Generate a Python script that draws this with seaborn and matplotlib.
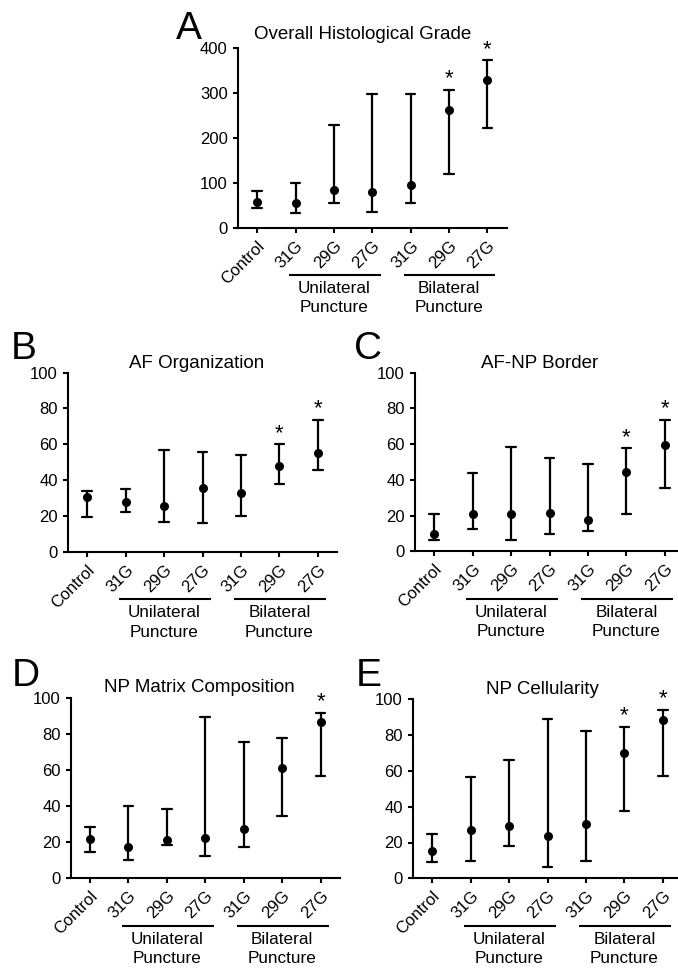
import numpy as np
import pandas as pd
import matplotlib
matplotlib.use("Agg")
import matplotlib.pyplot as plt
import matplotlib.transforms as mtransforms
import seaborn as sns

# ---------------- data ----------------
group_keys = ["Control", "U31G", "U29G", "U27G", "B31G", "B29G", "B27G"]
tick_labels = ["Control", "31G", "29G", "27G", "31G", "29G", "27G"]
puncture_labels = ["Unilateral\nPuncture", "Bilateral\nPuncture"]

overall_median = [58, 56, 83, 79, 96, 262, 330]
overall_low = [45, 32, 54, 36, 54, 120, 223]
overall_high = [82, 99, 228, 298, 297, 307, 373]
overall_sig = [0, 0, 0, 0, 0, 1, 1]

af_org_median = [30.8, 27.6, 25.8, 35.8, 32.7, 47.9, 55.3]
af_org_low = [19.3, 22.4, 16.5, 16.0, 19.9, 37.7, 45.8]
af_org_high = [34.0, 35.3, 57.1, 55.5, 53.8, 59.9, 73.8]
af_org_sig = [0, 0, 0, 0, 0, 1, 1]

afnp_median = [9.9, 21.1, 20.9, 21.3, 17.4, 44.2, 59.3]
afnp_low = [6.5, 12.3, 6.5, 9.7, 11.6, 20.9, 35.4]
afnp_high = [20.9, 44.0, 58.2, 52.0, 49.1, 57.6, 73.5]
afnp_sig = [0, 0, 0, 0, 0, 1, 1]

npm_median = [22.0, 17.4, 21.1, 22.4, 27.4, 61.3, 86.7]
npm_low = [14.8, 10.0, 18.3, 12.4, 17.6, 34.6, 56.7]
npm_high = [28.3, 40.0, 38.7, 89.8, 75.7, 78.1, 91.7]
npm_sig = [0, 0, 0, 0, 0, 0, 1]

npc_median = [15.1, 27.0, 29.4, 23.6, 30.5, 69.8, 88.6]
npc_low = [8.9, 9.5, 17.9, 6.5, 9.5, 37.8, 57.2]
npc_high = [25.0, 56.4, 66.1, 89.2, 82.3, 84.5, 94.0]
npc_sig = [0, 0, 0, 0, 0, 1, 1]

# ---------------- style ----------------
sns.set_theme(style="ticks")
plt.rcParams["font.family"] = ["Liberation Sans", "DejaVu Sans"]
plt.rcParams["axes.linewidth"] = 1.5

W, H = 678, 969
fig = plt.figure(figsize=(W / 100, H / 100), dpi=100)


def fx(px):
    return px / W


def fy(py):
    return 1 - py / H


panels = [
    dict(letter="A", title="Overall Histological Grade",
         med=overall_median, low=overall_low, high=overall_high, sig=overall_sig,
         ymax=400, step=100, box=(238, 506.5, 48.3, 227.7),
         title_xy=(362.5, 39), letter_xy=(176, 39)),
    dict(letter="B", title="AF Organization",
         med=af_org_median, low=af_org_low, high=af_org_high, sig=af_org_sig,
         ymax=100, step=20, box=(68, 337, 372.5, 552),
         title_xy=(197, 368), letter_xy=(11, 359)),
    dict(letter="C", title="AF-NP Border",
         med=afnp_median, low=afnp_low, high=afnp_high, sig=afnp_sig,
         ymax=100, step=20, box=(415, 684, 372.7, 551.3),
         title_xy=(540, 368), letter_xy=(354, 359)),
    dict(letter="D", title="NP Matrix Composition",
         med=npm_median, low=npm_low, high=npm_high, sig=npm_sig,
         ymax=100, step=20, box=(70.8, 339.8, 698.3, 878.3),
         title_xy=(199, 692), letter_xy=(12, 686)),
    dict(letter="E", title="NP Cellularity",
         med=npc_median, low=npc_low, high=npc_high, sig=npc_sig,
         ymax=100, step=20, box=(413, 682, 699.3, 878.3),
         title_xy=(542.5, 694), letter_xy=(356, 686)),
]

for p in panels:
    l, r, t, b = p["box"]
    ax = fig.add_axes([fx(l), fy(b), fx(r) - fx(l), fy(t) - fy(b)])
    ax_h_px = b - t

    # long-format table: low / median / high per group -> median with min-max range
    rows = []
    for k, lo, me, hi in zip(group_keys, p["low"], p["med"], p["high"]):
        for v in (lo, me, hi):
            rows.append((k, v))
    df = pd.DataFrame(rows, columns=["group", "value"])

    sns.pointplot(data=df, x="group", y="value", order=group_keys,
                  estimator="median", errorbar=("pi", 100),
                  color="black", linestyle="none", marker="o",
                  markersize=6.5, markeredgewidth=0, capsize=0.25,
                  err_kws={"linewidth": 1.6}, ax=ax)

    ax.set_xlabel("")
    ax.set_ylabel("")
    ax.set_ylim(0, p["ymax"])
    ax.set_xlim(-0.5, len(group_keys) - 0.5)
    ax.set_yticks(np.arange(0, p["ymax"] + 1, p["step"]))
    ax.set_xticks(range(len(group_keys)))
    ax.set_xticklabels(tick_labels)
    ax.tick_params(axis="both", width=1.5, length=3.8, labelsize=12, color="black",
                   labelcolor="black")
    plt.setp(ax.get_xticklabels(), rotation=45, ha="right", rotation_mode="anchor")
    sns.despine(ax=ax)
    for s in ("left", "bottom"):
        ax.spines[s].set_linewidth(1.5)
        ax.spines[s].set_color("black")

    # significance stars
    for i, s in enumerate(p["sig"]):
        if s:
            ax.annotate("*", xy=(i, p["high"][i]), xytext=(0, 4),
                        textcoords="offset points", ha="center", va="baseline",
                        fontsize=16, color="black", annotation_clip=False)

    # group lines and labels
    trans = mtransforms.blended_transform_factory(ax.transData, ax.transAxes)
    line_y = -47.3 / ax_h_px
    text_y = -70.5 / ax_h_px
    for (x0, x1, xc), lab in zip([(0.83, 3.22, 2), (3.83, 6.21, 5)], puncture_labels):
        ax.plot([x0, x1], [line_y, line_y], transform=trans, clip_on=False,
                color="black", lw=1.5, solid_capstyle="butt")
        ax.text(xc, text_y, lab, transform=trans, ha="center", va="center",
                fontsize=12.3, linespacing=1.35, color="black")

    # title and panel letter
    tx, ty = p["title_xy"]
    fig.text(fx(tx), fy(ty), p["title"], ha="center", va="baseline",
             fontsize=13.5, color="black")
    lx, ly = p["letter_xy"]
    fig.text(fx(lx), fy(ly), p["letter"], ha="left", va="baseline",
             fontsize=28, color="black")

fig.savefig("out.png", dpi=100)
